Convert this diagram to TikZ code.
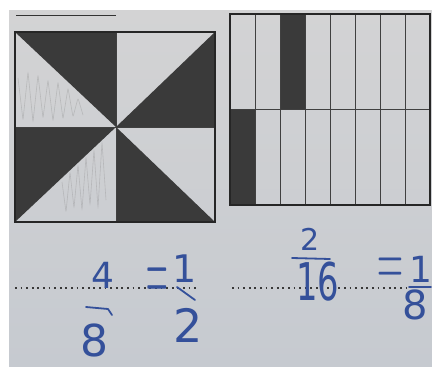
\documentclass[tikz,border=0pt]{standalone}
\usepackage{fontspec}
\newfontfamily\handfont{DejaVu Sans}
\newcommand{\inksize}[1]{\handfont\fontsize{#1}{#1}\selectfont}
\newcommand{\eqsize}[1]{\normalfont\fontsize{#1}{#1}\selectfont}
\definecolor{paper}{HTML}{D3D3D4}
\definecolor{paperlow}{HTML}{C6CAD0}
\definecolor{ink}{HTML}{34509A}
\definecolor{shade}{HTML}{3A3A3A}
\tikzset{
  dark/.style={fill=shade},
  frame/.style={draw=black!85, line width=1.3pt},
  cellline/.style={draw=black!75, line width=0.9pt},
  dotline/.style={draw=black!78, line width=1.7pt, dash pattern=on 1.7pt off 3.9pt},
  hand/.style={text=ink, inner sep=0pt},
  pencil/.style={draw=black!45, line width=0.6pt, opacity=0.35, rounded corners=2pt},
  stroke/.style={draw=ink, line width=1.8pt, line cap=round, line join=round}
}

\begin{document}
\begin{tikzpicture}[x=1pt, y=-1pt]
  \useasboundingbox (0,0) rectangle (432,367);
  \clip (0,0) rectangle (432,367);
  \fill[white] (0,0) rectangle (432,367);
  \shade[top color=paper, bottom color=paperlow] (9,10) rectangle (432,367);

  % pinwheel square
  \coordinate (tl) at (15,32);  \coordinate (tm) at (116,32);  \coordinate (tr) at (215,32);
  \coordinate (ml) at (15,127); \coordinate (c) at (116,127);  \coordinate (mr) at (215,127);
  \coordinate (bl) at (15,222); \coordinate (bm) at (116,222); \coordinate (br) at (215,222);
  \draw[black!80, line width=1pt] (16,15) -- (116,15);
  \fill[dark] (tl) -- (tm) -- (c) -- cycle;
  \fill[dark] (c) -- (tr) -- (mr) -- cycle;
  \fill[dark] (c) -- (bm) -- (br) -- cycle;
  \fill[dark] (ml) -- (c) -- (bl) -- cycle;
  \draw[pencil] (18,78) -- (23,120) -- (28,72) -- (33,122) -- (38,75) -- (43,118) -- (48,80)
    -- (53,121) -- (58,82) -- (63,119) -- (68,88) -- (73,117) -- (78,98) -- (83,115);
  \draw[pencil] (62,182) -- (66,212) -- (70,172) -- (74,208) -- (78,165) -- (82,210)
    -- (86,157) -- (90,205) -- (94,150) -- (98,208) -- (102,142) -- (106,200);
  \draw[cellline] (tm) -- (bm) (ml) -- (mr);
  \draw[frame] (tl) rectangle (br);

  % sixteen strips
  \fill[dark] (280,14) rectangle (305,109);
  \fill[dark] (230,109) rectangle (255,205);
  \foreach \i in {1,...,7} {
    \draw[cellline] ({230+25*\i},14) -- ({230+25*\i},205);
  }
  \draw[cellline] (230,109) -- (430,109);
  \draw[frame] (230,14) rectangle (430,205);

  % dotted lines
  \coordinate (dotA1) at (15,288);  \coordinate (dotA2) at (196,288);
  \coordinate (dotB1) at (232,288); \coordinate (dotB2) at (411,288);
  \draw[dotline] (dotA1) -- (dotA2);
  \draw[dotline] (dotB1) -- (dotB2);

  % handwriting
  \node[hand, font=\inksize{36}] (num4) at (103,275) {4};
  \node[hand, font=\inksize{44}] (den8) at (94,340) {8};
  \node[hand, font=\eqsize{100}] (eqA) at (157,286) {\scalebox{0.3}[1]{=}};
  \node[hand, font=\inksize{38}] (num1) at (185,269) {1};
  \node[hand, font=\inksize{46}] (den2) at (188,325) {2};
  \draw[stroke] (86,307) -- (108,309) -- (112,315);
  \draw[stroke] (177,287) -- (195,300);

  \node[hand, font=\inksize{30}] (num2) at (310,239) {2};
  \node[hand, font=\inksize{52}] (den16) at (318,282) {\scalebox{0.65}[1]{16}};
  \node[hand, font=\eqsize{80}] (eqB) at (390,272) {\scalebox{0.45}[1]{=}};
  \node[hand, font=\inksize{36}] (num1b) at (421,269) {1};
  \node[hand, font=\inksize{40}] (den8b) at (415,305) {8};
  \draw[stroke] (292,258) -- (330,259);
  \draw[stroke] (409,287) -- (431,287);
\end{tikzpicture}
\end{document}
